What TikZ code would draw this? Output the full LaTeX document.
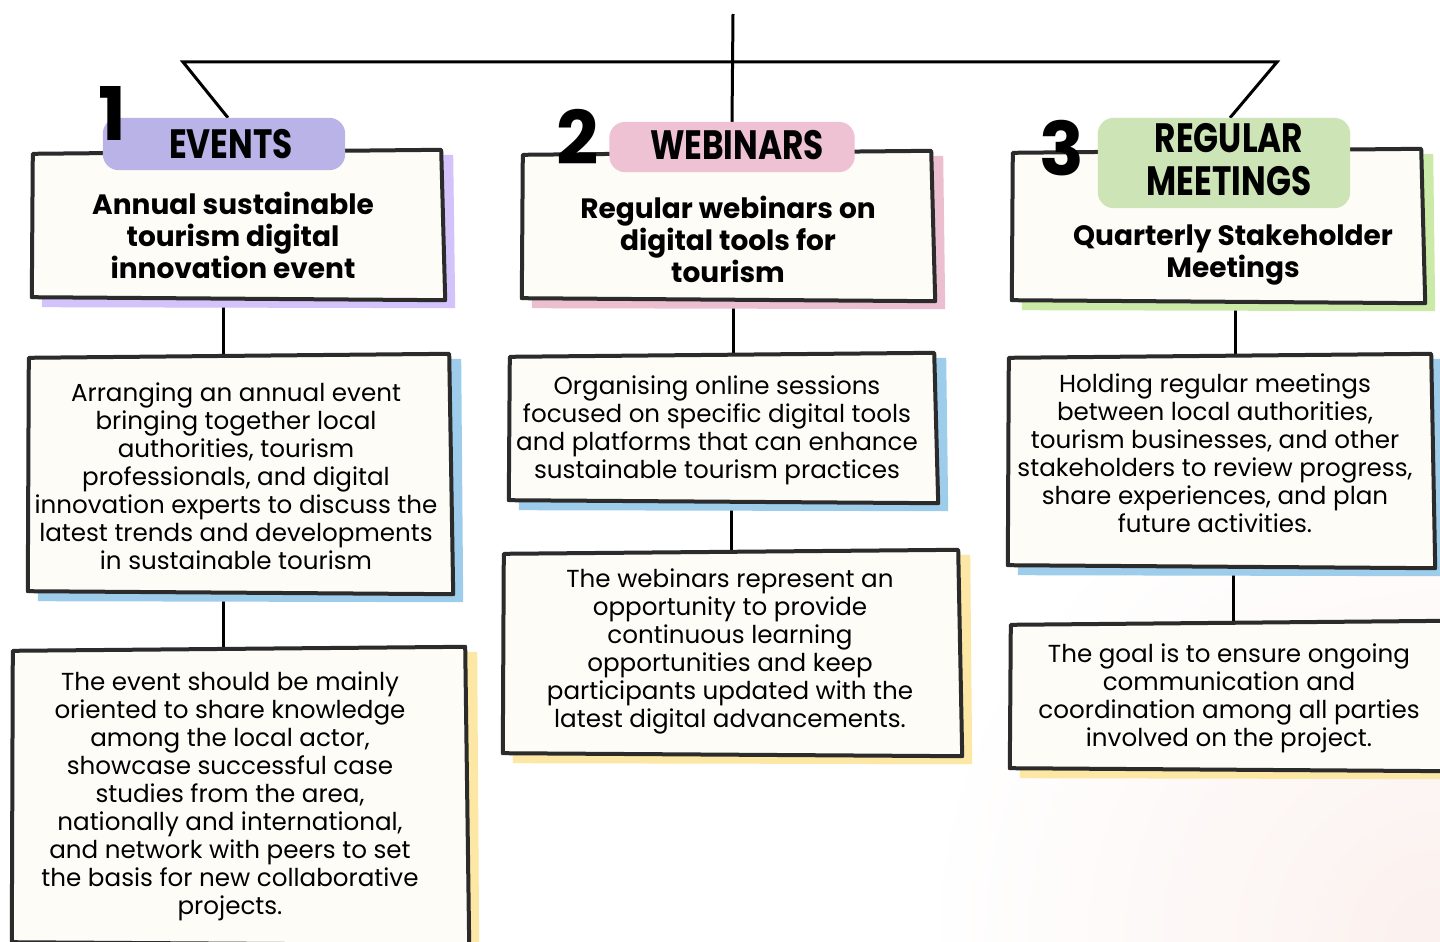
\documentclass[tikz,border=0pt]{standalone}
\usepackage{fontspec}
\setmainfont{Poppins}
\newfontfamily\tabfont[FakeStretch=0.8]{Poppins}

\definecolor{ink}{HTML}{2B2B2B}
\definecolor{cream}{HTML}{FDFCF7}
\definecolor{evpurple}{HTML}{B9B3E8}
\definecolor{evshade}{HTML}{D3C3FA}
\definecolor{webpink}{HTML}{EEC1D3}
\definecolor{webshade}{HTML}{ECBFD0}
\definecolor{megreen}{HTML}{CDE5B6}
\definecolor{meshade}{HTML}{CBEAA8}
\definecolor{skyshade}{HTML}{9DCDEB}
\definecolor{sunshade}{HTML}{FCE7A4}
\definecolor{blush}{HTML}{FBF1EE}

\tikzset{
  card/.style={inner sep=0pt},
  frame/.style={draw=ink,fill=cream,line width=4pt,line join=round},
  link/.style={draw=black,line width=3pt},
  tab/.style={rounded corners=16pt,inner sep=0pt,font=\tabfont\bfseries\fontsize{41}{43}\selectfont,align=center},
  num/.style={font=\bfseries\fontsize{74}{74}\selectfont,inner sep=0pt},
  headtxt/.style={align=center,font=\bfseries\fontsize{28}{32}\selectfont},
  bodytxt/.style={align=center,font=\fontsize{24.6}{28}\selectfont}
}

% hand drawn card: coloured offset shadow, then the outline
\newcommand\sketch[2]{%
  \fill[#2] ([shift={(10,9)}]#1.north west) -- ([shift={(9,4)}]#1.north east)
    -- ([shift={(11,9)}]#1.south east) -- ([shift={(10,8)}]#1.south west) -- cycle;
  \draw[frame] ([shift={(1,3)}]#1.north west) -- ([shift={(-3,-1)}]#1.north east)
    -- ([shift={(1,1)}]#1.south east) -- ([shift={(0,-2)}]#1.south west) -- cycle;
}

\begin{document}
\begin{tikzpicture}[x=1pt,y=-1pt]
\useasboundingbox (0,0) rectangle (1440,942);
\clip (0,0) rectangle (1440,942);
\fill[white] (0,0) rectangle (1440,942);
\shade[inner color=blush,outer color=white] (1440,942) circle (520);

% cards
\node[card,minimum width=412,minimum height=148] (h1) at (238,225) {};
\node[card,minimum width=412,minimum height=148] (h2) at (728,226) {};
\node[card,minimum width=412,minimum height=152] (h3) at (1218,226) {};
\node[card,minimum width=424,minimum height=238] (d1) at (240,474) {};
\node[card,minimum width=428,minimum height=148] (d2) at (723,428) {};
\node[card,minimum width=426,minimum height=212] (d3) at (1221,461) {};
\node[card,minimum width=456,minimum height=296] (b1) at (240,796) {};
\node[card,minimum width=458,minimum height=204] (b2) at (732,653) {};
\node[card,minimum width=440,minimum height=148] (b3) at (1230,696) {};

% tabs (placed first so the connectors can end on them)
\node[tab,minimum width=242,minimum height=52] (t1) at (224,144) {};
\node[tab,minimum width=245,minimum height=50] (t2) at (732,147) {};
\node[tab,minimum width=252,minimum height=90] (t3) at (1224,163) {};

% connectors
\coordinate (top) at (733,14);
\coordinate (jl) at (183,62);
\coordinate (jr) at (1277,62);
\draw[link] (top) -- (t2.north);
\draw[link] ([xshift=4]t1.north) -- (jl) -- (jr) -- ([xshift=6]t3.north);
\draw[link] ([xshift=-15]h1.south) -- ([xshift=-15]h1.south |- d1.north);
\draw[link] ([xshift=5]h2.south) -- ([xshift=5]h2.south |- d2.north);
\draw[link] ([xshift=17]h3.south) -- ([xshift=17]h3.south |- d3.north);
\draw[link] ([xshift=-17]d1.south) -- ([xshift=-17]d1.south |- b1.north);
\draw[link] ([xshift=8]d2.south) -- ([xshift=8]d2.south |- b2.north);
\draw[link] ([xshift=12]d3.south) -- ([xshift=12]d3.south |- b3.north);

\sketch{h1}{evshade}
\sketch{h2}{webshade}
\sketch{h3}{meshade}
\sketch{d1}{skyshade}
\sketch{d2}{skyshade}
\sketch{d3}{skyshade}
\sketch{b1}{sunshade}
\sketch{b2}{sunshade}
\sketch{b3}{sunshade}

% tab fills and titles over the frames
\fill[evpurple,rounded corners=16pt] (t1.north west) rectangle (t1.south east);
\fill[webpink,rounded corners=16pt] (t2.north west) rectangle (t2.south east);
\fill[megreen,rounded corners=16pt] (t3.north west) rectangle (t3.south east);
\node[tab] (t1t) at ([shift={(7,0)}]t1.center) {EVENTS};
\node[tab] (t2t) at ([shift={(5,-2)}]t2.center) {WEBINARS};
\node[tab] (t3t) at ([shift={(5,-3)}]t3.center) {REGULAR\\MEETINGS};

\node[num] (n1) at (112,113) {1};
\node[num] (n2) at (578,137) {2};
\node[num] (n3) at (1062,148) {3};

% texts
\node[headtxt] (h1t) at ([shift={(-5,10)}]h1.center) {Annual sustainable\\tourism digital\\innovation event};
\node[headtxt] (h2t) at ([shift={(0,13)}]h2.center) {Regular webinars on\\digital tools for\\tourism};
\node[headtxt] (h3t) at ([shift={(15,29)}]h3.center) {Quarterly Stakeholder\\Meetings};
\node[bodytxt] (d1t) at ([shift={(-4,2)}]d1.center) {Arranging an annual event\\bringing together local\\authorities, tourism\\professionals, and digital\\innovation experts to discuss the\\latest trends and developments\\in sustainable tourism};
\node[bodytxt] (d2t) at ([shift={(-6,2)}]d2.center) {Organising online sessions\\focused on specific digital tools\\and platforms that can enhance\\sustainable tourism practices};
\node[bodytxt] (d3t) at ([shift={(-6,-8)}]d3.center) {Holding regular meetings\\between local authorities,\\tourism businesses, and other\\stakeholders to review progress,\\share experiences, and plan\\future activities.};
\node[bodytxt] (b1t) at ([shift={(-10,0)}]b1.center) {The event should be mainly\\oriented to share knowledge\\among the local actor,\\showcase successful case\\studies from the area,\\nationally and international,\\and network with peers to set\\the basis for new collaborative\\projects.};
\node[bodytxt] (b2t) at ([shift={(-2,-2)}]b2.center) {The webinars represent an\\opportunity to provide\\continuous learning\\opportunities and keep\\participants updated with the\\latest digital advancements.};
\node[bodytxt] (b3t) at ([shift={(-1,2)}]b3.center) {The goal is to ensure ongoing\\communication and\\coordination among all parties\\involved on the project.};
\end{tikzpicture}
\end{document}
